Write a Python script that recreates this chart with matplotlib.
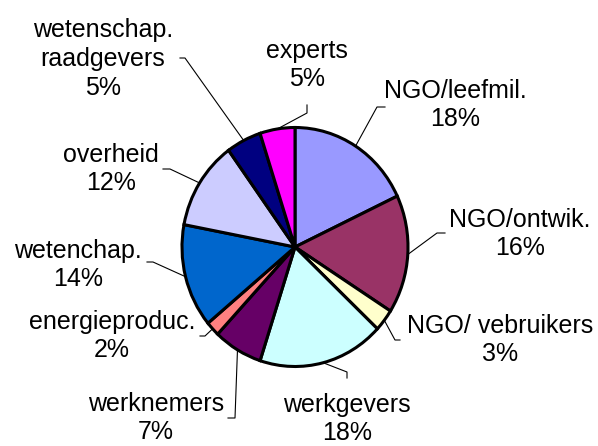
import numpy as np
import matplotlib
matplotlib.use("Agg")
import matplotlib.pyplot as plt

plt.rcParams['font.family'] = ['Liberation Sans', 'DejaVu Sans']

# data (clockwise from 12 o'clock)
labels = ['NGO/leefmil.', 'NGO/ontwik.', 'NGO/ vebruikers', 'werkgevers', 'werknemers',
          'energieproduc.', 'wetenchap.', 'overheid', 'wetenschap.\nraadgevers', 'experts']
shares = [18, 16, 3, 18, 7, 2, 14, 12, 5, 5]
colors = ['#9999FF', '#993366', '#FFFFCC', '#CCFFFF', '#660066',
          '#FF8080', '#0066CC', '#CCCCFF', '#000080', '#FF00FF']

# layout in pixels: label block centre, leader start, leader elbow
label_pos = [(455, 105), (520, 234), (500, 340), (347, 419), (156, 418),
             (112, 336), (78, 265), (111, 169), (103, 59), (307, 65)]
leader_pts = [[(385, 107), (377, 107)], [(445, 233), (437, 233)], [(400, 340), (395, 340)],
              [(347, 378), (347, 372)], [(228, 418), (235, 418)], [(200, 336), (205, 336)],
              [(147, 262), (153, 262)], [(163, 169), (170, 169)], [(180, 58), (185, 58)],
              [(307, 105), (307, 113)]]

W, H = 598, 446
cx, cy, rx, ry = 295, 247, 113, 119.5

def to_data(px, py):
    return (px - cx) / rx, (cy - py) / ry

fig = plt.figure(figsize=(W / 100, H / 100), dpi=100)
ax = fig.add_axes([0, 0, 1, 1])
wedges, _ = ax.pie(shares, colors=colors, startangle=90, counterclock=False, radius=1,
                   wedgeprops=dict(edgecolor='black', linewidth=2.2))
ax.set_aspect('auto')
ax.set_xlim(-cx / rx, (W - cx) / rx)
ax.set_ylim(-(H - cy) / ry, cy / ry)
ax.axis('off')

for w, lab, val, (lx, ly), pts in zip(wedges, labels, shares, label_pos, leader_pts):
    mid = np.deg2rad((w.theta1 + w.theta2) / 2)
    xs = [to_data(*p)[0] for p in pts] + [np.cos(mid)]
    ys = [to_data(*p)[1] for p in pts] + [np.sin(mid)]
    ax.plot(xs, ys, color='black', lw=0.8, clip_on=False)
    tx, ty = to_data(lx, ly)
    ax.text(tx, ty, f'{lab}\n{val}%', ha='center', va='center', fontsize=18,
            linespacing=1.25, multialignment='center')

fig.savefig('out.png', dpi=100)
